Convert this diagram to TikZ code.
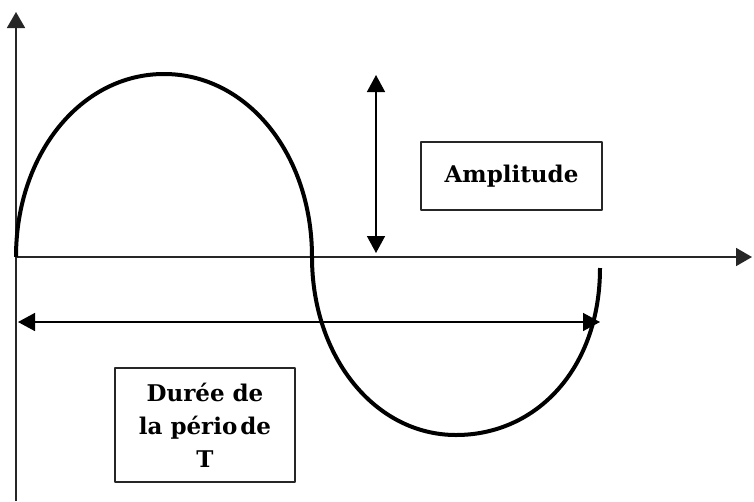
\documentclass[tikz,border=0pt]{standalone}
\usepackage{fontspec}
\setmainfont{DejaVu Serif}
\usetikzlibrary{arrows.meta}
\begin{document}
\begin{tikzpicture}[x=1pt,y=-1pt,line join=round,
  axis/.style={line width=1.8pt,draw=black!85,-{Triangle[length=16pt,width=18pt]}},
  dim/.style={line width=1.5pt,{Triangle[length=17pt,width=18pt]}-{Triangle[length=17pt,width=18pt]}},
  wave/.style={line width=4pt},
  lbox/.style={draw,line width=1.8pt,draw=black!85,align=center,inner sep=0pt,
    font=\bfseries\fontsize{23}{33}\selectfont}]
\useasboundingbox (0,0) rectangle (754,501);
% axes
\coordinate (O) at (16,257);
\coordinate (ybot) at (16,501);
\coordinate (ytop) at (16,12);
\coordinate (xend) at (752,257);
\draw[axis] (ybot)--(ytop);
\draw[axis] (O)--(xend);
% wave
\draw[wave] (O) .. controls (16,154) and (81,74) .. (164,74)
  .. controls (247,74) and (312,154) .. (312,257)
  .. controls (312,357) and (375,435) .. (456,435)
  .. controls (537,435) and (600,368) .. (600,268);
% amplitude
\coordinate (atop) at (376,75);
\coordinate (abot) at (376,253);
\draw[dim] (atop)--(abot);
\node[lbox,minimum width=181pt,minimum height=68pt] (amp) at (511.5,176) {Amplitude};
% period
\coordinate (pl) at (18,322);
\coordinate (pr) at (600,322);
\draw[dim] (pl)--(pr);
\node[lbox,minimum width=180pt,minimum height=114pt] (per) at (205,425)
  {Durée de\\la pério\hspace{3pt}de\\T};
\end{tikzpicture}
\end{document}
